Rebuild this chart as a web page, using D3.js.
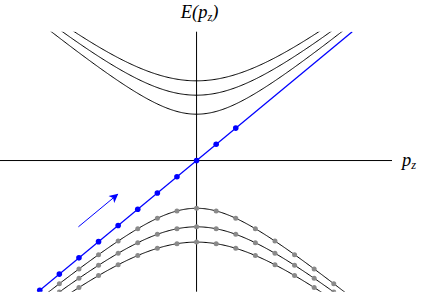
<!DOCTYPE html>
<html>
<head>
<meta charset="utf-8">
<script src="https://cdn.jsdelivr.net/npm/d3@7"></script>
<style>
  html, body { margin: 0; padding: 0; background: #fff; }
  svg { display: block; }
  text { font-family: "Liberation Serif", "DejaVu Serif", serif; font-style: italic; }
</style>
</head>
<body>
<svg id="chart" width="421" height="295"></svg>
<script>
// ---- data ----
const upperMasses = [1.0, 1.41, 1.72];      // gaps of positive-energy bands
const lowerMasses = [1.03, 1.43, 1.76];     // gaps of negative-energy bands
const dotSpacing = 0.35;                    // momentum step of sampled states
const blueDotSteps = d3.range(-8, 3);       // k = -8..2 on the massless line
const grayDotSteps = d3.range(-8, 9);       // k = -8..8 on the Dirac sea bands
const arrowP = [-2.11, -1.41];              // arrow momentum span
const arrowOffset = 0.68;                   // arrow runs along E = p + offset
const pDomain = [-3.51, 3.49];
const eDomain = [-2.83, 2.78];
const xLabel = "p", xSub = "z";
const yLabel = "E(p", ySub = "z", yLabelEnd = ")";

// ---- layout ----
const svg = d3.select("#chart");
const x = d3.scaleLinear().domain(pDomain).range([0, 392]);
const y = d3.scaleLinear().domain(eDomain).range([291.7, 31.7]);

const defs = svg.append("defs");
defs.append("clipPath").attr("id", "clip")
  .append("rect").attr("x", -10).attr("y", y(eDomain[1]))
  .attr("width", 441).attr("height", y(eDomain[0]) - y(eDomain[1]));

defs.append("marker").attr("id", "arrowhead")
  .attr("viewBox", "0 0 10 10").attr("refX", 9).attr("refY", 5)
  .attr("markerWidth", 12).attr("markerHeight", 9)
  .attr("markerUnits", "userSpaceOnUse")
  .attr("orient", "auto")
  .append("path").attr("d", "M0,0 L10,5 L0,10 L2.5,5 Z").attr("fill", "#0000ff");

// axes
svg.append("line").attr("x1", x(pDomain[0])).attr("x2", x(pDomain[1]))
  .attr("y1", y(0)).attr("y2", y(0)).attr("stroke", "#000").attr("stroke-width", 1);
svg.append("line").attr("x1", x(0)).attr("x2", x(0))
  .attr("y1", y(eDomain[0])).attr("y2", y(eDomain[1])).attr("stroke", "#000").attr("stroke-width", 1);

const g = svg.append("g").attr("clip-path", "url(#clip)");
const pSamples = d3.range(pDomain[0], pDomain[1] + 0.001, 0.02);
const line = d3.line().x(d => x(d[0])).y(d => y(d[1]));

upperMasses.forEach(m => {
  g.append("path").datum(pSamples.map(p => [p, Math.sqrt(p * p + m * m)]))
    .attr("d", line).attr("fill", "none").attr("stroke", "#000").attr("stroke-width", 1);
});
lowerMasses.forEach(m => {
  g.append("path").datum(pSamples.map(p => [p, -Math.sqrt(p * p + m * m)]))
    .attr("d", line).attr("fill", "none").attr("stroke", "#000").attr("stroke-width", 1);
});
// gray dots (filled sea)
lowerMasses.forEach(m => {
  g.selectAll(null).data(grayDotSteps).enter().append("circle")
    .attr("cx", k => x(k * dotSpacing))
    .attr("cy", k => y(-Math.sqrt((k * dotSpacing) ** 2 + m * m)))
    .attr("r", 2.5).attr("fill", "#8a8a8a");
});

// massless line E = p
g.append("line")
  .attr("x1", x(eDomain[0])).attr("y1", y(eDomain[0]))
  .attr("x2", x(eDomain[1])).attr("y2", y(eDomain[1]))
  .attr("stroke", "#0000ff").attr("stroke-width", 1.3);
g.selectAll(null).data(blueDotSteps).enter().append("circle")
  .attr("cx", k => x(k * dotSpacing)).attr("cy", k => y(k * dotSpacing))
  .attr("r", 2.8).attr("fill", "#0000ff");

// arrow
svg.append("line")
  .attr("x1", x(arrowP[0])).attr("y1", y(arrowP[0] + arrowOffset))
  .attr("x2", x(arrowP[1])).attr("y2", y(arrowP[1] + arrowOffset))
  .attr("stroke", "#0000ff").attr("stroke-width", 1)
  .attr("marker-end", "url(#arrowhead)");

// labels
const yl = svg.append("text").attr("x", x(0) + 3).attr("y", 18)
  .attr("text-anchor", "middle").attr("font-size", 18.5);
yl.append("tspan").text(yLabel);
yl.append("tspan").attr("font-size", 12.5).attr("dy", 3).text(ySub);
yl.append("tspan").attr("dy", -3).text(yLabelEnd);

const xl = svg.append("text").attr("x", 402).attr("y", 166)
  .attr("font-size", 18.5);
xl.append("tspan").text(xLabel);
xl.append("tspan").attr("font-size", 12.5).attr("dy", 3).text(xSub);
</script>
</body>
</html>
